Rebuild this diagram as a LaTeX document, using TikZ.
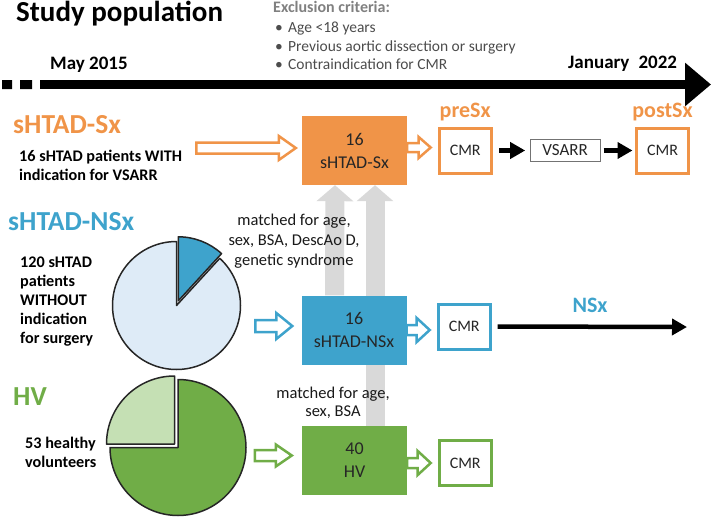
\documentclass[tikz,border=0pt]{standalone}
\usepackage{fontspec}
\setmainfont{Carlito}
\usetikzlibrary{arrows.meta,positioning,calc,backgrounds}
\definecolor{sxcol}{RGB}{240,148,72}
\definecolor{nsxcol}{RGB}{62,163,204}
\definecolor{nsxlight}{RGB}{222,235,247}
\definecolor{hvcol}{RGB}{112,173,71}
\definecolor{hvlight}{RGB}{197,224,180}
\newcommand{\fsz}[2]{\fontsize{#1}{#2}\selectfont}
\newcommand{\critbul}{\makebox[13pt][l]{•}}
\tikzset{
  grouplbl/.style={anchor=base west, inner sep=0pt, font=\fsz{27.5}{30}\bfseries},
  desclbl/.style={anchor=base west, inner sep=0pt, align=left, font=\fsz{16.2}{19}\bfseries},
  cohort/.style={rectangle, fill=#1, minimum width=105pt, minimum height=69pt, inner sep=0pt,
                 align=center, font=\fsz{18}{23}, text=black!85},
  cmrbox/.style={rectangle, draw=#1, line width=3pt, fill=white, minimum width=52pt,
                 minimum height=45pt, inner sep=0pt, font=\fsz{16}{19}, text=black!85},
  vsbox/.style={rectangle, draw=black!55, line width=0.8pt, minimum width=70pt,
                minimum height=22pt, inner sep=0pt, font=\fsz{17}{20}, text=black!85},
  phase/.style={inner sep=0pt, font=\fsz{22}{24}\bfseries, text=#1},
  matchlbl/.style={inner sep=0pt, align=center, font=\fsz{16.5}{20}, text=black!90},
  blkarr/.style={-{Triangle[length=15pt,width=16pt]}, line width=4.5pt},
  matcharr/.style={-{Triangle[length=16pt,width=36pt]}, line width=19pt, draw=black!15},
  piefill/.style={draw=black!85, line width=1.5pt, line join=round},
  hollowarr/.style n args={3}{line width=2.5pt, fill=white, line join=miter,
    to path={let \p1=(\tikztostart), \p2=(\tikztotarget) in
      (\x1,\y1+#1) -- (\x2-#3,\y1+#1) -- (\x2-#3,\y1+#2) -- (\x2,\y1)
      -- (\x2-#3,\y1-#2) -- (\x2-#3,\y1-#1) -- (\x1,\y1-#1) -- cycle}},
}
\begin{document}
\begin{tikzpicture}[x=1pt, y=-1pt]
  \useasboundingbox (0,0) rectangle (712,519);
  % heading and exclusion criteria
  \node[anchor=base west, inner sep=0pt, font=\fsz{29}{32}\bfseries] (title) at (16,22) {Study population};
  \node[anchor=base west, inner sep=0pt, font=\fsz{16}{19}\bfseries, text=black!50] (excl) at (273,13) {Exclusion criteria:};
  \node[anchor=base west, inner sep=0pt, align=left, font=\fsz{15.5}{18.5}, text=black!70] (crit) at (275,70)
    {\critbul Age <18 years\\ \critbul Previous aortic dissection or surgery\\ \critbul Contraindication for CMR};
  % timeline
  \node[anchor=base west, inner sep=0pt, font=\fsz{19}{22}\bfseries] (tstart) at (50,70) {May 2015};
  \node[anchor=base west, inner sep=0pt, font=\fsz{19}{22}\bfseries] (tstop) at (568,68) {January\hspace{9pt}2022};
  \coordinate (t0) at (40,84.5);
  \coordinate (t1) at (711,84.5);
  \draw[line width=9pt, -{Triangle[length=26pt,width=42pt]}] (t0) -- (t1);
  \fill (2,80) rectangle (12,89) (20,80) rectangle (32,89);
  % study groups
  \node[grouplbl, text=sxcol] (sxlbl) at (13,133) {sHTAD-Sx};
  \node[desclbl] (sxdesc) at (19,180) {16 sHTAD patients WITH\\indication for VSARR};
  \node[grouplbl, text=nsxcol] (nsxlbl) at (8,230) {sHTAD-NSx};
  \node[desclbl] (nsxdesc) at (20,343) {120 sHTAD\\patients\\WITHOUT\\indication\\for surgery};
  \node[grouplbl, text=hvcol] (hvlbl) at (13,405) {HV};
  \node[desclbl] (hvdesc) at (25,467) {53 healthy\\volunteers};
  % pies
  \coordinate (p1) at (176.5,305.5);
  \coordinate (p1s) at (178.3,300.8);
  \filldraw[piefill, fill=nsxlight] (p1) -- ++(-90:64) arc[start angle=-90, end angle=-407.5, radius=64] -- cycle;
  \filldraw[piefill, fill=nsxcol] (p1s) -- ++(-90:64) arc[start angle=-90, end angle=-47.5, radius=64] -- cycle;
  \coordinate (p2) at (178,447.5);
  \coordinate (p2s) at (174.5,444);
  \filldraw[piefill, fill=hvcol] (p2) -- ++(-180:68) arc[start angle=-180, end angle=-450, radius=68] -- cycle;
  \filldraw[piefill, fill=hvlight] (p2s) -- ++(-90:68) arc[start angle=-90, end angle=-180, radius=68] -- cycle;
  % cohorts and scans
  \node[cohort=sxcol] (sx) at (354.5,150.5) {16\\sHTAD-Sx};
  \node[cohort=nsxcol] (nsx) at (354,330) {16\\sHTAD-NSx};
  \node[cohort=hvcol] (hv) at (354.5,460.5) {40\\HV};
  \node[cmrbox=sxcol, right=30.5pt of sx] (cmrpre) {CMR};
  \node[vsbox, right=37pt of cmrpre] (vsarr) {VSARR};
  \node[cmrbox=sxcol, right=34.5pt of vsarr] (cmrpost) {CMR};
  \node[cmrbox=nsxcol, right=30pt of nsx, yshift=3.5pt] (cmrnsx) {CMR};
  \node[cmrbox=hvcol, right=30.5pt of hv, yshift=-2.5pt] (cmrhv) {CMR};
  \node[phase=sxcol, above=5pt of cmrpre] (pre) {preSx};
  \node[phase=sxcol, above=5pt of cmrpost] (post) {postSx};
  \node[phase=nsxcol] (nsxph) at (590,305) {NSx};
  \node[matchlbl, anchor=base] (match1) at (294,265) {matched for age,\\sex, BSA, DescAo D,\\genetic syndrome};
  \node[matchlbl, anchor=base, font=\fsz{16.5}{18}] (match2) at (333,416) {matched for age,\\sex, BSA};
  % matching arrows
  \begin{scope}[on background layer]
    \draw[matcharr] ($(nsx.north)+(-19.5,0)$) -- ($(sx.south)+(-19.5,0)$);
    \draw[matcharr] ($(hv.north)+(20.5,0)$) -- ($(sx.south)+(20.5,0)$);
  \end{scope}
  % flow
  \draw[hollowarr={5.5pt}{12pt}{17pt}, draw=sxcol] ($(sxdesc.east |- sx.west)+(14,-2.5)$) to ($(sx.west)+(-6,0)$);
  \draw[hollowarr={4.5pt}{10.5pt}{12pt}, draw=sxcol] ($(sx.east)+(0,-3)$) to ($(cmrpre.west)+(-7,0)$);
  \draw[hollowarr={6pt}{13pt}{16pt}, draw=nsxcol] ($(nsx.west)+(-46,-4)$) to ($(nsx.west)+(-9,0)$);
  \draw[hollowarr={5pt}{12pt}{13pt}, draw=nsxcol] (nsx.east) to ($(cmrnsx.west)+(-7,0)$);
  \draw[hollowarr={5.5pt}{11pt}{16pt}, draw=hvcol] ($(hv.west)+(-47,-5)$) to ($(hv.west)+(-10,0)$);
  \draw[hollowarr={5pt}{12pt}{13pt}, draw=hvcol] ($(hv.east)+(0,2.5)$) to ($(cmrhv.west)+(-7,0)$);
  \draw[blkarr, shorten <=6.5pt, shorten >=4.5pt] (cmrpre.east) -- (vsarr.west);
  \draw[blkarr, shorten <=3pt, shorten >=2.5pt] (vsarr.east) -- (cmrpost.west);
  \coordinate (nsxend) at (687,327);
  \draw[blkarr, shorten <=6pt] (cmrnsx.east) -- (nsxend);
\end{tikzpicture}
\end{document}
